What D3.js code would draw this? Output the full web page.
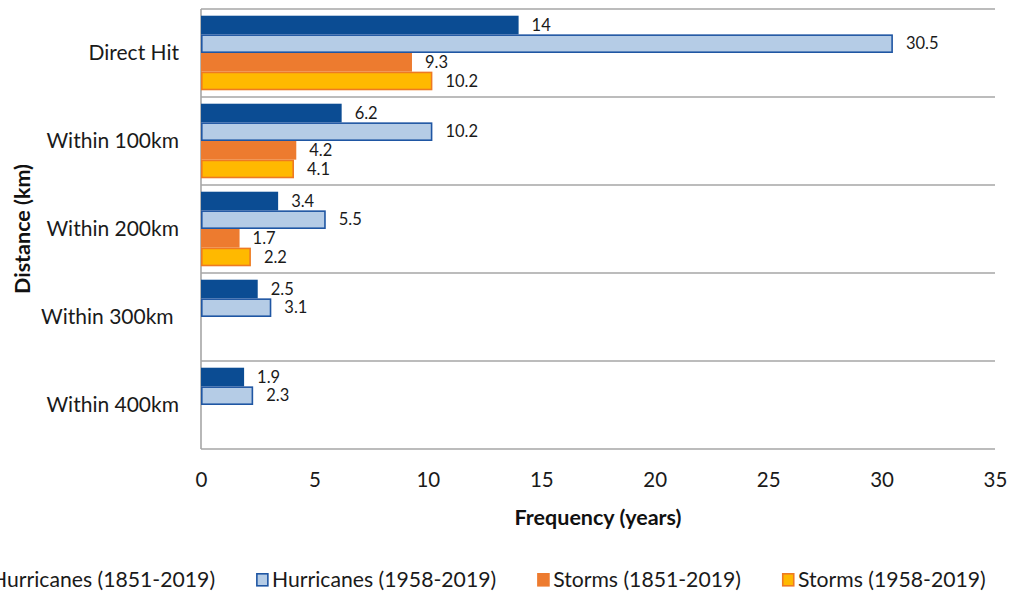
<!DOCTYPE html>
<html>
<head>
<meta charset="utf-8">
<script src="https://cdn.jsdelivr.net/npm/d3@7"></script>
<style>
  html, body { margin: 0; padding: 0; background: #ffffff; }
  svg { display: block; font-family: Lato, "Open Sans", sans-serif; }
  text { white-space: pre; }
</style>
</head>
<body>
<svg id="chart" width="1010" height="594"></svg>
<script>
// Return frequency (years) of hurricanes and storms by distance from the site
const categories = ["Direct Hit", "Within 100km", "Within 200km", "Within 300km ", "Within 400km"];
const seriesNames = ["Hurricanes (1851-2019)", "Hurricanes (1958-2019)", "Storms (1851-2019)", "Storms (1958-2019)"];
const hurricanes1851 = [14, 6.2, 3.4, 2.5, 1.9];
const hurricanes1958 = [30.5, 10.2, 5.5, 3.1, 2.3];
const storms1851 = [9.3, 4.2, 1.7, null, null];
const storms1958 = [10.2, 4.1, 2.2, null, null];
const xTicks = [0, 5, 10, 15, 20, 25, 30, 35];

const seriesValues = [hurricanes1851, hurricanes1958, storms1851, storms1958];
const fills   = ["#0b4c93", "#b5cce6", "#ed7b2f", "#ffb900"];
const strokes = ["none", "#1f56a3", "none", "#ee7a22"];

const svg = d3.select("#chart");
const W = 1010, H = 594;
const margin = { top: 9, right: 15, bottom: 145, left: 201 };

const x = d3.scaleLinear().domain([0, 35]).range([margin.left, W - margin.right]);
const y = d3.scaleBand().domain(categories).range([margin.top, H - margin.bottom]).padding(0);
const ySub = d3.scaleBand().domain(seriesNames).range([0, y.bandwidth()])
  .paddingInner(0).paddingOuter(0.36);

const gridColor = "#a6a6a6";

// Horizontal separators between the category bands
const edges = categories.map(c => y(c)).concat([y.range()[1]]);
svg.append("g").selectAll("line").data(edges).join("line")
  .attr("x1", x(0)).attr("x2", x(35))
  .attr("y1", d => d).attr("y2", d => d)
  .attr("stroke", gridColor).attr("stroke-width", 1.6);

// Vertical axis line
svg.append("line")
  .attr("x1", x(0)).attr("x2", x(0))
  .attr("y1", y.range()[0]).attr("y2", y.range()[1])
  .attr("stroke", gridColor).attr("stroke-width", 1.6);

// Bars
const rows = [];
categories.forEach((c, i) => {
  seriesNames.forEach((s, j) => {
    const v = seriesValues[j][i];
    if (v != null) rows.push({ cat: c, series: s, j, v });
  });
});

const inset = j => (strokes[j] === "none" ? 0 : 0.8);
svg.append("g").selectAll("rect").data(rows).join("rect")
  .attr("x", d => x(0) + inset(d.j))
  .attr("y", d => y(d.cat) + ySub(d.series) + inset(d.j))
  .attr("width", d => x(d.v) - x(0) - 2 * inset(d.j))
  .attr("height", d => ySub.bandwidth() - 2 * inset(d.j))
  .attr("fill", d => fills[d.j])
  .attr("stroke", d => strokes[d.j])
  .attr("stroke-width", 1.6);

// Value labels
svg.append("g").selectAll("text").data(rows).join("text")
  .attr("x", d => x(d.v) + 13)
  .attr("y", d => y(d.cat) + ySub(d.series) + ySub.bandwidth() / 2)
  .attr("dy", "0.35em")
  .attr("font-size", 16.5)
  .attr("fill", "#1a1a1a")
  .text(d => d.v);

// Category labels
svg.append("g").selectAll("text").data(categories).join("text")
  .attr("x", x(0) - 22)
  .attr("y", d => y(d) + y.bandwidth() / 2)
  .attr("dy", "0.35em")
  .attr("text-anchor", "end")
  .attr("font-size", 21)
  .attr("fill", "#1a1a1a")
  .text(d => d);

// X axis tick labels
const xAxis = d3.axisBottom(x).tickValues(xTicks).tickSize(0).tickPadding(0).tickFormat(d3.format("d"));
const gx = svg.append("g").attr("transform", `translate(0, ${y.range()[1] + 31})`).call(xAxis);
gx.select(".domain").remove();
gx.selectAll("text").attr("font-size", 20.5).attr("font-family", "Lato, 'Open Sans', sans-serif")
  .attr("fill", "#1a1a1a").attr("dy", "0.35em").attr("y", 0);

// Axis titles
svg.append("text")
  .attr("x", (x.range()[0] + x.range()[1]) / 2)
  .attr("y", 517).attr("dy", "0.35em")
  .attr("text-anchor", "middle")
  .attr("font-size", 21.5).attr("font-weight", "bold").attr("fill", "#111")
  .text("Frequency (years)");

svg.append("text")
  .attr("transform", `translate(22, ${(y.range()[0] + y.range()[1]) / 2}) rotate(-90)`)
  .attr("dy", "0.35em")
  .attr("text-anchor", "middle")
  .attr("font-size", 21.5).attr("font-weight", "bold").attr("fill", "#111")
  .text("Distance (km)");

// Legend
const legend = svg.append("g").attr("transform", "translate(0, 580)");
let lx = -25;
seriesNames.forEach((s, j) => {
  const g = legend.append("g").attr("transform", `translate(${lx}, 0)`);
  g.append("rect")
    .attr("x", 0.8).attr("y", -6.2).attr("width", 11).attr("height", 12)
    .attr("fill", fills[j])
    .attr("stroke", strokes[j] === "none" ? fills[j] : strokes[j])
    .attr("stroke-width", 1.6);
  const t = g.append("text")
    .attr("x", 16).attr("dy", "0.35em")
    .attr("font-size", 21.2).attr("fill", "#1a1a1a")
    .text(s);
  lx += 16 + t.node().getComputedTextLength() + 41;
});
</script>
</body>
</html>
